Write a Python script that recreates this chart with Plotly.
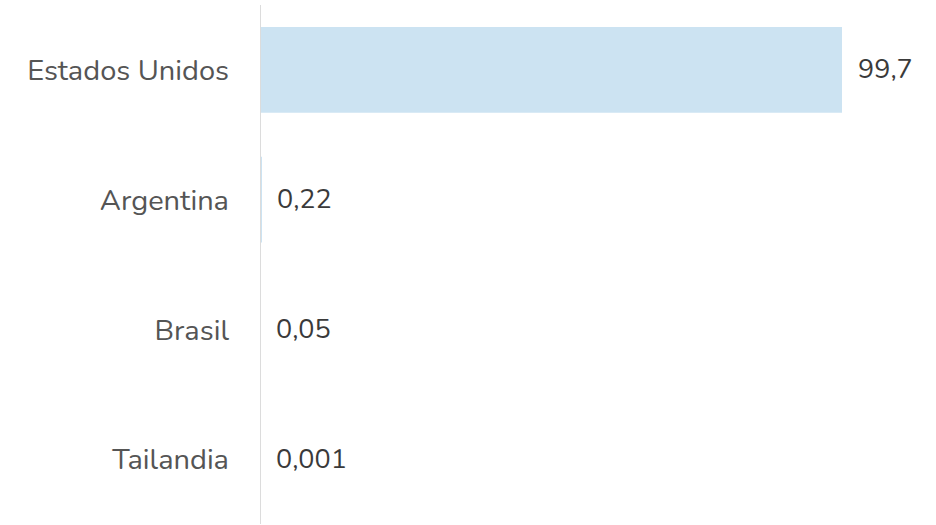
import plotly.graph_objects as go

countries = ["Estados Unidos", "Argentina", "Brasil", "Tailandia"]
values = [99.7, 0.22, 0.05, 0.001]
value_labels = ["99,7", "0,22", "0,05", "0,001"]

FONT = "Nunito, Lato, 'Open Sans', sans-serif"

fig = go.Figure(go.Bar(
    y=countries, x=values, orientation="h",
    marker=dict(color="#cce3f2", line=dict(width=0)),
    width=0.66,
    hoverinfo="skip",
))

for c, v, t in zip(countries, values, value_labels):
    fig.add_annotation(x=v, y=c, text=t, showarrow=False, xanchor="left",
                       xshift=14, font=dict(family=FONT, size=27, color="#3a3a3a"))

fig.update_layout(
    width=936, height=525,
    margin=dict(l=260, r=16, t=5, b=1),
    plot_bgcolor="white", paper_bgcolor="white",
    showlegend=False,
    font=dict(family=FONT),
    xaxis=dict(range=[0, 113.06], visible=False, fixedrange=True),
    yaxis=dict(autorange="reversed", showgrid=False, zeroline=False,
               showline=False, ticks="", ticklabelstandoff=30, fixedrange=True,
               tickfont=dict(family=FONT, size=29, color="#555555")),
    shapes=[dict(type="line", xref="x", yref="paper", x0=0, x1=0, y0=0, y1=1,
                 line=dict(color="#dcdcdc", width=2))],
)

fig.write_html("out.html", config={"displayModeBar": False},
               post_script="document.body.style.margin='0';")
